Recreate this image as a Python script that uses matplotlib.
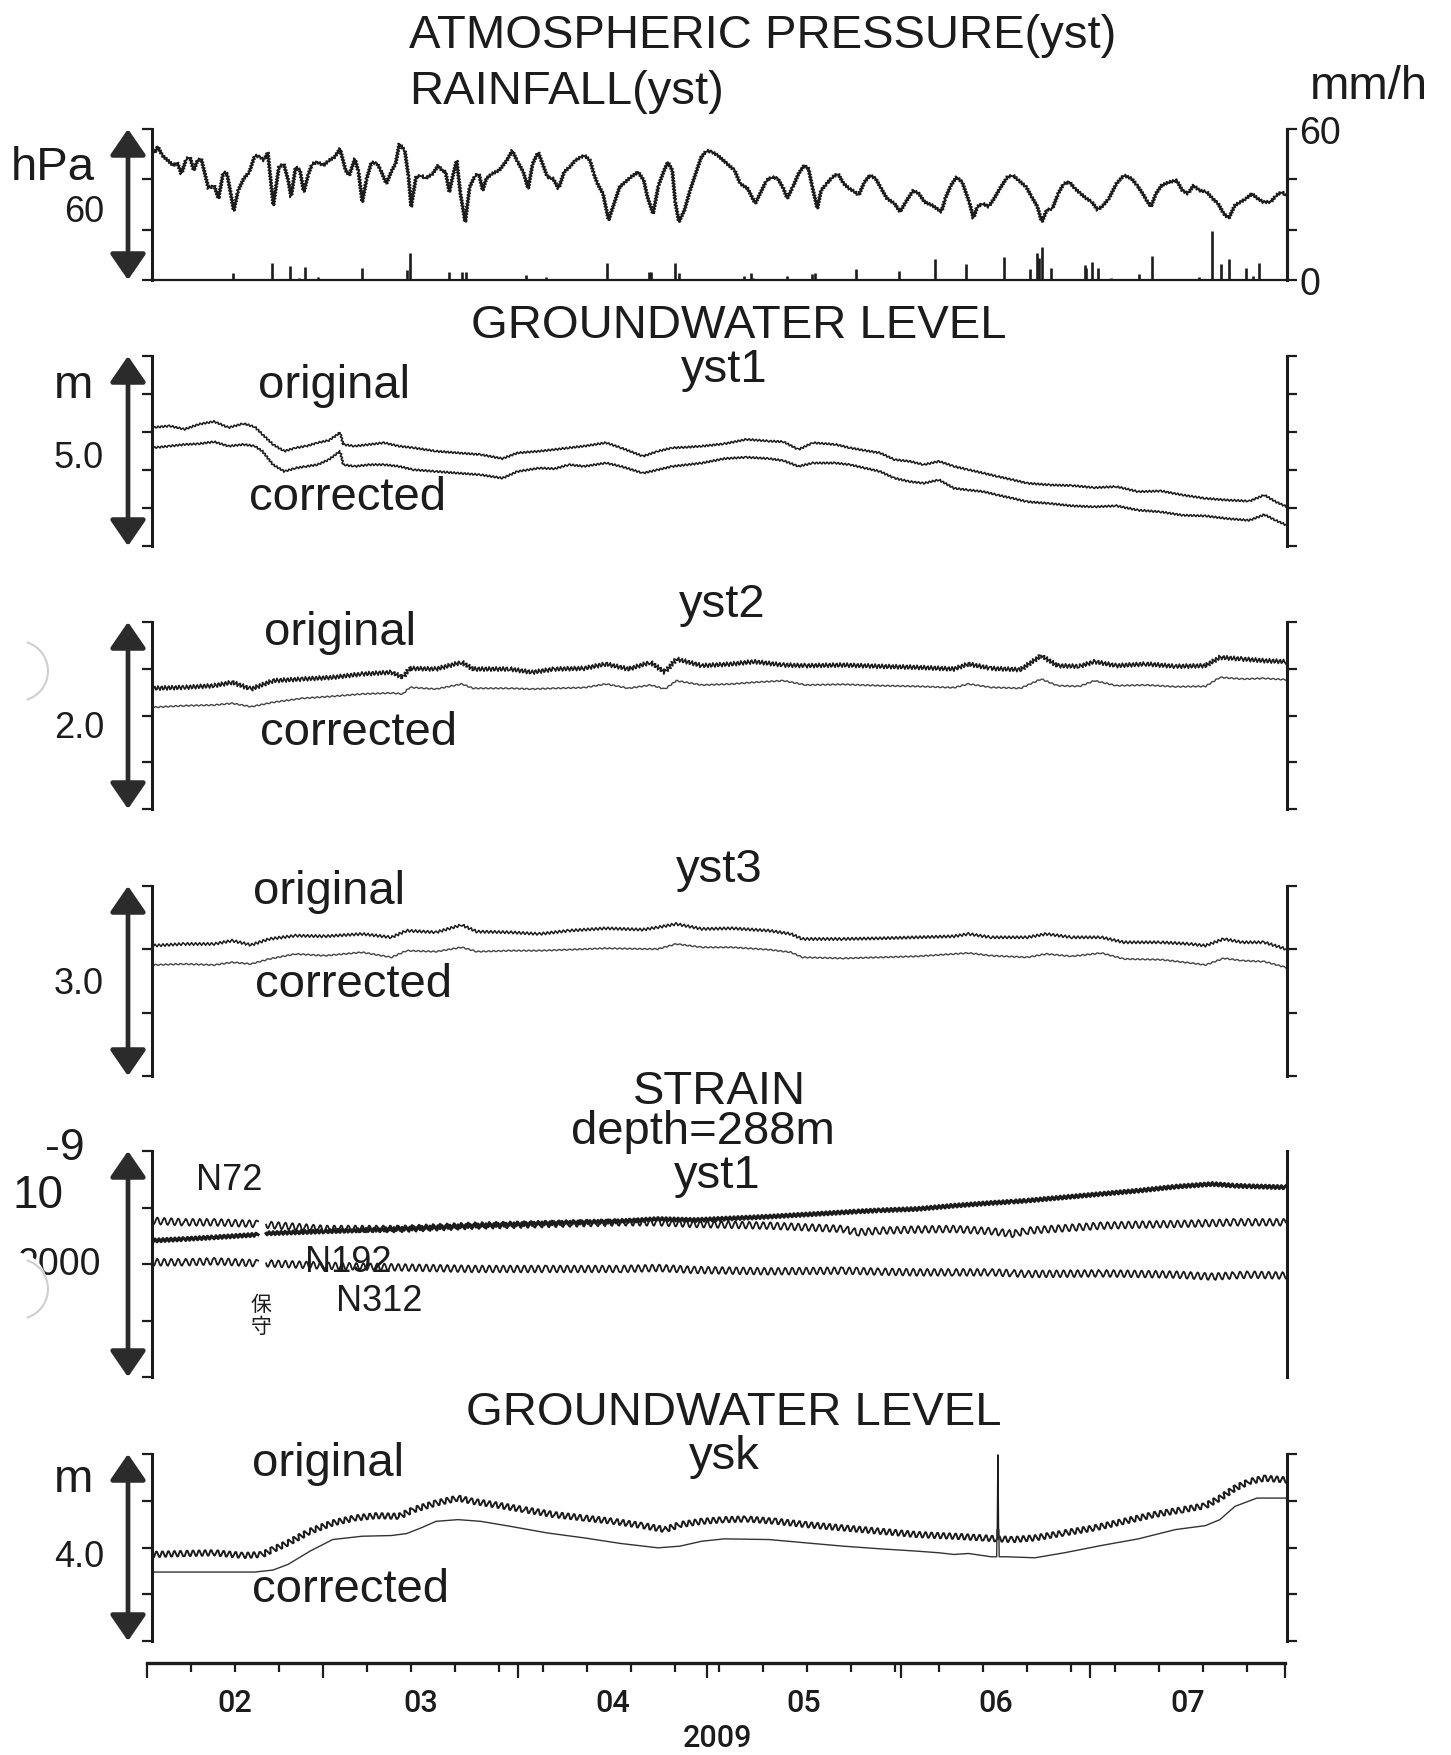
import numpy as np
import matplotlib
matplotlib.use("Agg")
import matplotlib.pyplot as plt
import matplotlib.dates as mdates
import matplotlib.transforms as mtransforms
from matplotlib.ticker import NullFormatter
from matplotlib.patches import FancyArrowPatch, Arc, Circle

plt.rcParams['font.family'] = ['Liberation Sans', 'DejaVu Sans']

# ---------------------------------------------------------------- data
# time axis: days after 2009-02-01

# atmospheric pressure (hPa)
p_day = [0.45, 0.93, 1.63, 2.52, 3.41, 4.0, 4.7, 5.47, 6.06, 6.65,
         7.25, 7.84, 8.43, 9.02, 9.9, 10.6, 11.38, 11.97, 12.56, 13.03,
         13.74, 14.63, 15.52, 16.4, 17.29, 17.88, 18.47, 18.76, 19.35, 20.24,
         21.0, 21.72, 22.19, 22.9, 23.6, 24.2, 24.96, 25.56, 26.44, 27.33,
         28.21, 29.1, 29.99, 30.87, 31.46, 32.35, 32.94, 33.53, 34.24, 35.0,
         35.9, 36.48, 37.37, 38.26, 38.85, 39.44, 40.32, 40.91, 41.33, 42.1,
         42.98, 43.57, 44.75, 45.64, 46.23, 46.82, 47.41, 48.0, 48.59, 49.18,
         49.95, 50.66, 51.55, 52.14, 52.73, 53.32, 54.2, 55.38, 56.57, 57.45,
         58.34, 59.22, 59.99, 60.7, 61.59, 62.18, 63.06, 63.95, 64.84, 65.72,
         66.61, 67.49, 68.38, 68.97, 69.86, 70.45, 71.04, 71.92, 72.81, 73.7,
         74.58, 75.47, 76.35, 77.53, 78.42, 79.01, 79.9, 80.78, 81.67, 82.26,
         82.97, 83.44, 84.03, 84.92, 85.8, 86.69, 87.58, 88.46, 89.35, 90.23,
         91.7, 92.9, 93.8, 95.0, 96.2, 97.1, 98.0, 98.9, 99.8, 100.7,
         101.3, 102.2, 103.1, 104.0, 104.7, 105.3, 106.1, 106.7, 107.6, 108.5,
         109.4, 110.3, 111.2, 112.1, 112.7, 113.6, 114.5, 115.4, 116.3, 117.2,
         118.4, 119.3, 120.2, 121.4, 122.3, 123.2, 124.4, 125.9, 126.5, 127.4,
         128.3, 129.2, 130.4, 131.0, 131.6, 132.5, 133.4, 134.3, 135.2, 136.4,
         137.3, 138.2, 139.4, 140.3, 141.2, 141.9, 142.7, 143.6, 144.5, 145.4,
         146.3, 147.2, 148.1, 149.0, 149.9, 150.8, 151.7, 152.6, 153.8, 155.0,
         156.2, 157.1, 158.0, 158.6, 159.3, 160.1, 161.0, 162.2, 163.4, 164.3,
         165.2, 166.1, 167.0, 168.2, 169.1, 170.0, 170.9, 171.7, 172.7, 173.6,
         174.5, 175.4, 176.3, 177.2, 178.4, 179.3, 180.2, 180.8]
p_hpa = [1025.8, 1028.0, 1024.5, 1022.5, 1020.5, 1021.8, 1017.2, 1023.2, 1023.8, 1018.6,
         1022.5, 1023.2, 1017.2, 1011.3, 1012.6, 1007.4, 1017.9, 1017.2, 1009.3, 1002.5,
         1010.6, 1015.3, 1017.9, 1024.5, 1023.8, 1022.5, 1025.8, 1018.6, 1004.7, 1019.9,
         1021.2, 1014.6, 1008.0, 1019.9, 1018.6, 1010.0, 1017.2, 1021.2, 1021.8, 1020.5,
         1022.5, 1023.8, 1027.1, 1018.6, 1016.6, 1023.2, 1017.9, 1006.0, 1015.3, 1021.8,
         1021.2, 1018.6, 1013.3, 1018.6, 1021.2, 1029.1, 1026.4, 1015.9, 1004.1, 1015.9,
         1016.6, 1015.3, 1017.2, 1020.5, 1018.6, 1017.9, 1010.0, 1016.6, 1022.5, 1009.3,
         998.1, 1012.0, 1016.6, 1017.2, 1010.6, 1015.3, 1017.2, 1018.6, 1022.5, 1026.4,
         1021.8, 1017.9, 1011.3, 1021.2, 1025.8, 1021.8, 1015.9, 1015.3, 1011.3, 1017.9,
         1019.9, 1022.5, 1023.8, 1024.5, 1022.5, 1017.2, 1013.3, 1009.3, 998.8, 1005.4,
         1012.0, 1013.9, 1015.9, 1017.9, 1014.6, 1008.0, 1001.4, 1012.6, 1018.6, 1021.8,
         1018.6, 1006.0, 998.1, 1002.8, 1010.6, 1017.2, 1023.8, 1026.4, 1025.8, 1024.5,
         1021.2, 1018.6, 1013.3, 1011.3, 1005.4, 1010.0, 1014.6, 1015.9, 1015.3, 1011.3,
         1007.4, 1012.0, 1017.2, 1020.5, 1019.2, 1012.0, 1003.4, 1010.6, 1013.3, 1015.9,
         1017.2, 1013.3, 1011.3, 1010.0, 1008.7, 1013.9, 1016.6, 1015.3, 1011.3, 1007.4,
         1005.4, 1002.1, 1006.0, 1010.6, 1009.3, 1006.0, 1004.7, 1002.1, 1007.4, 1012.6,
         1015.9, 1013.9, 1005.4, 999.5, 1004.1, 1005.4, 1004.1, 1007.4, 1011.3, 1015.9,
         1016.6, 1014.6, 1012.0, 1008.0, 1004.1, 998.1, 1002.8, 1003.4, 1009.3, 1013.3,
         1013.9, 1011.3, 1009.3, 1007.4, 1006.0, 1002.8, 1004.7, 1007.4, 1013.3, 1016.6,
         1015.3, 1012.6, 1009.3, 1006.7, 1004.1, 1009.3, 1012.6, 1013.9, 1014.6, 1010.6,
         1009.3, 1012.6, 1010.6, 1010.0, 1007.4, 1005.4, 1001.4, 999.5, 1004.7, 1006.0,
         1007.4, 1009.3, 1007.4, 1006.0, 1006.0, 1008.7, 1010.0, 1008.7]

# hourly rainfall (mm/h)
rain_day = [2.7, 8.7, 12.9, 19.1, 22.0, 23.5, 24.4, 26.4, 30.9, 33.5,
            40.7, 41.2, 47.4, 49.5, 50.0, 59.7, 62.9, 72.6, 75.4, 79.2,
            79.6, 83.4, 84.0, 85.2, 94.4, 95.5, 95.9, 101.3, 105.2, 105.8,
            110.1, 112.3, 116.9, 119.2, 122.6, 124.8, 129.8, 135.8, 140.0, 141.2,
            141.5, 141.9, 143.3, 148.8, 149.0, 149.9, 150.8, 152.9, 155.3, 157.4,
            159.5, 166.9, 169.0, 170.5, 171.8, 174.5, 175.6, 176.5, 177.8]
rain_mm = [0.4, 0.3, 2.7, 6.7, 5.6, 0.7, 5.3, 1.3, 0.4, 4.9,
           4.0, 10.7, 3.1, 3.3, 3.3, 2.0, 1.1, 6.7, 0.4, 3.3,
           3.3, 6.7, 2.7, 0.4, 1.7, 2.7, 0.9, 1.7, 2.4, 2.8,
           0.4, 4.4, 0.4, 3.7, 0.4, 8.3, 6.4, 9.1, 4.3, 10.9,
           8.7, 13.1, 4.9, 6.0, 4.7, 7.1, 4.9, 0.9, 0.4, 2.4,
           9.7, 1.3, 19.6, 6.3, 8.3, 4.9, 1.7, 6.7, 0.4]

# groundwater level yst1 (m)
yst1_day = [0.0, 2.8, 5.2, 7.5, 9.9, 12.2, 14.6, 16.4, 17.6, 19.3,
            21.1, 22.9, 24.6, 26.4, 28.2, 30.0, 30.5, 32.3, 34.7, 37.0,
            39.4, 41.7, 45.3, 48.8, 52.4, 55.9, 58.3, 61.8, 64.2, 66.5,
            68.9, 72.4, 74.8, 78.3, 80.7, 83.0, 85.4, 87.7, 91.3, 94.8,
            98.4, 100.7, 103.1, 105.4, 109.0, 111.3, 113.7, 116.1, 118.4, 120.8,
            123.1, 125.5, 127.9, 130.2, 132.6, 134.9, 137.3, 139.6, 143.2, 146.7,
            150.3, 153.8, 157.3, 160.9, 164.4, 168.0, 171.5, 175.0, 177.4, 179.2,
            181.0]
yst1_orig = [3.116, 3.160, 3.072, 3.205, 3.276, 3.116, 3.222, 3.134, 2.939, 2.672,
             2.495, 2.584, 2.628, 2.717, 2.779, 2.983, 2.672, 2.628, 2.672, 2.717,
             2.628, 2.584, 2.495, 2.450, 2.406, 2.300, 2.450, 2.495, 2.539, 2.584,
             2.628, 2.717, 2.584, 2.362, 2.495, 2.584, 2.601, 2.628, 2.690, 2.805,
             2.761, 2.743, 2.539, 2.717, 2.672, 2.584, 2.513, 2.450, 2.273, 2.229,
             2.140, 2.229, 2.096, 2.007, 1.918, 1.829, 1.741, 1.652, 1.607, 1.590,
             1.536, 1.563, 1.430, 1.448, 1.341, 1.253, 1.208, 1.181, 1.341, 1.164,
             1.031]
yst1_corr = [2.584, 2.628, 2.672, 2.690, 2.743, 2.628, 2.672, 2.628, 2.495, 2.140,
             1.962, 2.051, 2.096, 2.140, 2.273, 2.495, 2.140, 2.096, 2.140, 2.140,
             2.096, 2.007, 1.962, 1.918, 1.874, 1.785, 1.962, 2.051, 2.033, 2.140,
             2.096, 2.184, 2.096, 1.918, 2.007, 2.096, 2.140, 2.184, 2.300, 2.335,
             2.300, 2.246, 2.096, 2.184, 2.184, 2.140, 2.051, 1.962, 1.785, 1.696,
             1.652, 1.741, 1.519, 1.474, 1.430, 1.341, 1.253, 1.164, 1.119, 1.057,
             1.031, 1.057, 0.942, 0.898, 0.809, 0.791, 0.720, 0.676, 0.826, 0.676,
             0.542]

# groundwater level yst2 (m)
yst2_day = [0.0, 5.2, 9.9, 12.8, 15.8, 19.3, 24.0, 28.8, 33.5, 38.2,
            40.0, 41.1, 45.3, 49.4, 51.2, 57.1, 60.6, 64.2, 68.9, 72.4,
            76.0, 79.5, 81.8, 83.6, 87.7, 92.5, 96.0, 100.7, 104.3, 110.2,
            116.1, 122.0, 127.9, 130.2, 133.8, 138.5, 141.8, 144.4, 147.9, 150.3,
            153.8, 158.5, 163.2, 168.0, 170.3, 173.9, 177.4, 180.8]
yst2_orig = [1.291, 1.301, 1.319, 1.355, 1.283, 1.372, 1.390, 1.408, 1.444, 1.462,
             1.408, 1.504, 1.497, 1.569, 1.497, 1.497, 1.462, 1.497, 1.504, 1.551,
             1.497, 1.569, 1.462, 1.604, 1.533, 1.551, 1.576, 1.540, 1.533, 1.540,
             1.526, 1.515, 1.497, 1.551, 1.504, 1.490, 1.640, 1.533, 1.526, 1.576,
             1.533, 1.551, 1.526, 1.533, 1.622, 1.604, 1.586, 1.576]
yst2_corr = [1.087, 1.105, 1.112, 1.130, 1.094, 1.141, 1.184, 1.205, 1.230, 1.241,
             1.230, 1.301, 1.283, 1.337, 1.291, 1.291, 1.283, 1.291, 1.298, 1.337,
             1.291, 1.326, 1.283, 1.372, 1.326, 1.337, 1.355, 1.372, 1.326, 1.333,
             1.319, 1.312, 1.298, 1.337, 1.301, 1.291, 1.390, 1.319, 1.312, 1.372,
             1.319, 1.326, 1.308, 1.312, 1.408, 1.390, 1.397, 1.383]

# groundwater level yst3 (m)
yst3_day = [0.0, 5.2, 9.9, 12.8, 15.8, 18.7, 22.9, 27.6, 33.5, 38.2,
            40.6, 45.3, 49.4, 51.8, 57.1, 61.8, 66.5, 72.4, 78.3, 80.7,
            83.6, 87.7, 92.5, 98.4, 101.9, 103.7, 110.2, 116.1, 122.0, 127.9,
            130.2, 133.8, 139.6, 142.6, 146.7, 151.4, 155.0, 160.9, 165.6, 168.0,
            170.9, 173.9, 177.4, 180.8]
yst3_orig = [2.058, 2.085, 2.085, 2.137, 2.069, 2.164, 2.216, 2.206, 2.243, 2.190,
             2.295, 2.269, 2.385, 2.280, 2.269, 2.243, 2.295, 2.332, 2.311, 2.348,
             2.401, 2.322, 2.332, 2.295, 2.243, 2.164, 2.164, 2.174, 2.190, 2.206,
             2.243, 2.190, 2.190, 2.243, 2.190, 2.190, 2.111, 2.111, 2.085, 2.058,
             2.164, 2.111, 2.111, 2.006]
yst3_corr = [1.753, 1.769, 1.753, 1.795, 1.769, 1.848, 1.927, 1.900, 1.953, 1.874,
             1.979, 1.964, 2.032, 1.964, 1.979, 1.979, 1.995, 2.016, 2.006, 2.006,
             2.085, 2.032, 2.032, 1.995, 1.953, 1.874, 1.858, 1.874, 1.890, 1.927,
             1.942, 1.900, 1.874, 1.927, 1.890, 1.942, 1.848, 1.837, 1.785, 1.753,
             1.858, 1.821, 1.806, 1.716]

# borehole strain yst1, depth 288 m (1e-9); NaN marks the maintenance gap
strain_day = [0.0, 5.2, 9.9, 16.9, 17.5, 18.2, 27.6, 39.4, 51.2, 63.0,
              74.8, 80.7, 86.6, 98.4, 110.2, 112.5, 116.1, 122.0, 127.9, 133.8,
              137.3, 139.6, 151.4, 157.3, 163.2, 169.1, 172.7, 175.0, 180.8]
n72 = [383, 369, 369, 354, np.nan, 348, 310, 310, 339, 354,
       369, 369, 354, 339, 310, 280, 295, 305, 310, 290,
       266, 295, 339, 348, 354, 362, 369, 369, 369]
n192 = [207, 221, 236, 260, np.nan, 271, 289, 310, 339, 360,
        378, 398, 389, 419, 457, 465, 475, 487, 516, 540,
        552, 561, 620, 649, 684, 708, 693, 688, 679]
n312 = [15, 15, 24, 6, np.nan, 6, -15, -30, -44, -44,
        -44, -35, -53, -65, -59, -62, -68, -74, -74, -74,
        -82, -89, -83, -88, -94, -112, -100, -94, -103]

# groundwater level ysk (m); one spike on day 134.9
ysk_orig_day = [0.0, 5.2, 9.9, 14.6, 17.6, 19.3, 21.7, 25.2, 28.8, 32.3,
                35.8, 39.4, 41.7, 45.3, 48.8, 51.2, 54.7, 59.4, 64.2, 68.9,
                73.6, 78.3, 81.8, 84.2, 87.7, 91.3, 94.8, 99.5, 104.3, 110.2,
                116.1, 122.0, 127.9, 132.6, 134.8, 134.9, 135.0, 137.3, 140.8, 145.5,
                150.3, 155.0, 159.7, 164.4, 168.0, 170.3, 172.7, 175.0, 177.4, 180.8]
ysk_orig = [1.851, 1.872, 1.887, 1.830, 1.851, 1.958, 2.099, 2.348, 2.525, 2.631,
            2.681, 2.667, 2.809, 2.951, 3.057, 2.986, 2.915, 2.809, 2.702, 2.631,
            2.560, 2.468, 2.383, 2.490, 2.560, 2.596, 2.610, 2.560, 2.490, 2.419,
            2.348, 2.277, 2.241, 2.206, 2.185, 3.980, 2.185, 2.170, 2.206, 2.312,
            2.419, 2.560, 2.702, 2.809, 2.894, 3.057, 3.270, 3.412, 3.482, 3.447]
ysk_corr_day = [0.0, 5.2, 9.9, 16.4, 19.3, 21.7, 25.2, 28.8, 33.5, 38.2,
                40.6, 42.9, 45.3, 48.8, 52.4, 57.1, 63.0, 68.9, 74.8, 80.7,
                84.2, 87.7, 91.3, 98.4, 104.3, 110.2, 116.1, 122.0, 125.5, 127.9,
                130.2, 133.8, 134.7, 134.75, 135.05, 135.1, 136.1, 140.8, 145.5, 151.4,
                157.3, 163.2, 168.0, 170.3, 172.7, 176.2, 180.8]
ysk_corr = [1.475, 1.475, 1.475, 1.475, 1.518, 1.639, 1.922, 2.170, 2.241, 2.256,
            2.298, 2.419, 2.560, 2.596, 2.560, 2.454, 2.312, 2.206, 2.085, 1.993,
            2.029, 2.135, 2.185, 2.170, 2.099, 2.029, 1.972, 1.922, 1.887, 1.851,
            1.872, 1.802, 1.802, 2.383, 2.383, 1.802, 1.802, 1.780, 1.887, 2.043,
            2.185, 2.383, 2.468, 2.596, 2.880, 3.057, 3.057]
ysk_spike = 35  # index of the spike sample in ysk_orig

month_labels = ['02', '03', '04', '05', '06', '07']
year_label = '2009'

# ---------------------------------------------------------------- figure
W, H = 1451, 1756
fig = plt.figure(figsize=(W / 100, H / 100), dpi=100)
fig.patch.set_facecolor('white')

INK = '#1c1c1c'
T0 = mdates.date2num(np.datetime64('2009-02-01'))
T1 = mdates.date2num(np.datetime64('2009-08-01'))


def when(days):
    return T0 + np.asarray(days, dtype=float)


def panel(x0, y0, x1, y1):
    ax = fig.add_axes([x0 / W, 1 - y1 / H, (x1 - x0) / W, (y1 - y0) / H])
    ax.set_xlim(T0, T1)
    ax.patch.set_alpha(0)
    for s in ('top', 'bottom'):
        ax.spines[s].set_visible(False)
    for s in ('left', 'right'):
        ax.spines[s].set_linewidth(2.2)
        ax.spines[s].set_color(INK)
    ax.set_xticks([])
    return ax


def yscale(ax, lo, hi, n, right=True):
    ax.set_ylim(lo, hi)
    ax.set_yticks(np.linspace(lo, hi, n + 1))
    ax.tick_params(axis='y', direction='out', length=7, width=1.6, color=INK,
                   left=True, right=right, labelleft=False, labelright=False)


def ftext(x, y, s, size=34, ha='left', va='center', **kw):
    return fig.text(x / W, 1 - y / H, s, fontsize=size, ha=ha, va=va,
                    color=INK, **kw)


def double_arrow(y_top, y_bot, x=128):
    arr = FancyArrowPatch((x / W, 1 - y_bot / H), (x / W, 1 - y_top / H),
                          transform=fig.transFigure,
                          arrowstyle='<|-|>,head_length=0.8,head_width=0.55',
                          mutation_scale=20, lw=3.4, color='#2b2b2b',
                          shrinkA=0, shrinkB=0)
    fig.add_artist(arr)


def trace(ax, days, vals, lw=1.0, color=INK, amp=0.0, period=5.0):
    line, = ax.plot(when(days), vals, color=color, lw=lw,
                    solid_joinstyle='round')
    if amp > 0:
        line.set_sketch_params(scale=amp, length=period, randomness=1.0)
    return line


# ---- pressure and rainfall
ax1 = panel(152, 130, 1287, 281)
yscale(ax1, 975, 1035, 3, right=False)
ax1.spines['bottom'].set_visible(True)
ax1.spines['bottom'].set_linewidth(1.6)
ax1.spines['bottom'].set_color(INK)
trace(ax1, p_day, p_hpa, lw=1.4, amp=1.4, period=3.0)

ax1r = ax1.twinx()
ax1r.set_xlim(T0, T1)
for s in ('top', 'bottom', 'left'):
    ax1r.spines[s].set_visible(False)
ax1r.spines['right'].set_linewidth(2.2)
ax1r.spines['right'].set_color(INK)
ax1r.set_ylim(0, 60)
ax1r.set_yticks([0, 20, 40, 60], labels=['0', '', '', '60'])
ax1r.tick_params(axis='y', direction='out', length=7, width=1.6, color=INK,
                 labelsize=27, labelcolor=INK, pad=2)
ax1r.vlines(when(rain_day), 0, rain_mm, color=INK, lw=1.9)

# ---- groundwater panels
ax2 = panel(152, 357, 1287, 547)
yscale(ax2, 0, 5.0, 5)
trace(ax2, yst1_day, yst1_orig, lw=1.1, amp=1.0, period=3.5)
trace(ax2, yst1_day, yst1_corr, lw=1.1, amp=1.0, period=3.5)

ax3 = panel(152, 623, 1287, 810)
yscale(ax3, 0, 2.0, 4)
trace(ax3, yst2_day, yst2_orig, lw=1.2, amp=2.2, period=3.5)
trace(ax3, yst2_day, yst2_corr, lw=1.0, color='#444444', amp=0.6, period=5.0)

ax4 = panel(152, 887, 1287, 1077)
yscale(ax4, 0, 3.0, 3)
trace(ax4, yst3_day, yst3_orig, lw=1.1, amp=1.3, period=4.0)
trace(ax4, yst3_day, yst3_corr, lw=1.0, color='#444444', amp=0.6, period=5.0)

# ---- strain
ax5 = panel(152, 1152, 1287, 1378)
yscale(ax5, -1000, 1000, 4, right=False)
trace(ax5, strain_day, n72, lw=1.3, amp=3.5, period=7.0)
trace(ax5, strain_day, n192, lw=2.2, amp=1.5, period=4.0)
trace(ax5, strain_day, n312, lw=1.3, amp=3.5, period=7.0)

# ---- ysk: tidal band drawn without the spike, spike drawn as a plain line
ax6 = panel(152, 1455, 1287, 1642)
yscale(ax6, 0, 4.0, 4)
trace(ax6, np.delete(ysk_orig_day, ysk_spike), np.delete(ysk_orig, ysk_spike),
      lw=1.4, amp=3.0, period=6.0)
trace(ax6, ysk_orig_day[ysk_spike - 1:ysk_spike + 2],
      ysk_orig[ysk_spike - 1:ysk_spike + 2], lw=1.1)
trace(ax6, ysk_corr_day, ysk_corr, lw=1.0, color='#333333')

for top, bot in [(130, 281), (357, 547), (623, 810), (887, 1077),
                 (1152, 1378), (1455, 1642)]:
    double_arrow(top, bot)

# ---- shared time axis
axt = fig.add_axes([147 / W, 1 - 1664 / H, (1285 - 147) / W, 0.0005])
axt.set_xlim(T0, T1)
axt.patch.set_alpha(0)
for s in ('top', 'left', 'right'):
    axt.spines[s].set_visible(False)
axt.spines['bottom'].set_linewidth(2.4)
axt.spines['bottom'].set_color(INK)
axt.set_yticks([])
axt.xaxis.set_major_locator(mdates.MonthLocator())
axt.xaxis.set_minor_locator(mdates.WeekdayLocator(byweekday=mdates.SU))
axt.xaxis.set_major_formatter(NullFormatter())
axt.xaxis.set_minor_formatter(NullFormatter())
axt.tick_params(axis='x', which='major', direction='out', length=11, width=1.6, color=INK)
axt.tick_params(axis='x', which='minor', direction='out', length=6.5, width=1.6, color=INK)

trans = mtransforms.blended_transform_factory(axt.transData, fig.transFigure)
m_starts = np.arange(np.datetime64('2009-02'), np.datetime64('2009-09'),
                     dtype='datetime64[M]').astype('datetime64[D]')
m_num = mdates.date2num(m_starts)
narrow = ['Roboto', 'Liberation Sans']
for lab, a, b in zip(month_labels, m_num[:-1], m_num[1:]):
    axt.text((a + b) / 2, 1 - 1704 / H, lab, transform=trans, ha='center',
             va='center', fontsize=22, color=INK, family=narrow,
             fontweight='medium')
ftext(717, 1739, year_label, size=22, ha='center', family=narrow,
      fontweight='medium')

# ---- titles and labels
ftext(409, 36, 'ATMOSPHERIC PRESSURE(yst)')
ftext(409, 92, 'RAINFALL(yst)')
ftext(1310, 87, 'mm/h')
ftext(11, 168, 'hPa')
ftext(104, 213, '60', size=26, ha='right')

ftext(739, 326, 'GROUNDWATER LEVEL', ha='center')
ftext(724, 370, 'yst1', ha='center')
ftext(54, 386, 'm')
ftext(104, 459, '5.0', size=26, ha='right')
ftext(258, 386, 'original')
ftext(249, 498, 'corrected')

ftext(722, 605, 'yst2', ha='center')
ftext(264, 633, 'original')
ftext(260, 733, 'corrected')
ftext(104, 729, '2.0', size=26, ha='right')

ftext(719, 870, 'yst3', ha='center')
ftext(253, 892, 'original')
ftext(255, 985, 'corrected')
ftext(104, 985, '3.0', size=26, ha='right')

ftext(719, 1092, 'STRAIN', ha='center')
ftext(703, 1132, 'depth=288m', ha='center')
ftext(717, 1176, 'yst1', ha='center')
ftext(45, 1148, '-9', size=32)
ftext(13, 1196, '10', size=33)
ftext(101, 1265, '2000', size=27, ha='right')
ftext(196, 1181, 'N72', size=26)
ftext(305, 1263, 'N192', size=26)
ftext(336, 1302, 'N312', size=26)
ftext(261, 1316, '保\n守', size=15, ha='center', linespacing=1.0,
      family=['Noto Sans CJK JP', 'DejaVu Sans'])

ftext(734, 1413, 'GROUNDWATER LEVEL', ha='center')
ftext(724, 1457, 'ysk', ha='center')
ftext(54, 1480, 'm')
ftext(104, 1558, '4.0', size=26, ha='right')
ftext(252, 1464, 'original')
ftext(252, 1590, 'corrected')

# binder holes at the left margin
hole = Circle((18 / W, 1 - 1290 / H), 30 / W, transform=fig.transFigure,
              facecolor='white', edgecolor='none', zorder=5)
fig.add_artist(hole)
for cy in (672, 1290):
    fig.add_artist(Arc((18 / W, 1 - cy / H), 60 / W, 60 / H, theta1=-70,
                       theta2=70, transform=fig.transFigure,
                       color='#cfcfcf', lw=1.5, zorder=6))

fig.savefig('out.png', dpi=100, facecolor='white')
